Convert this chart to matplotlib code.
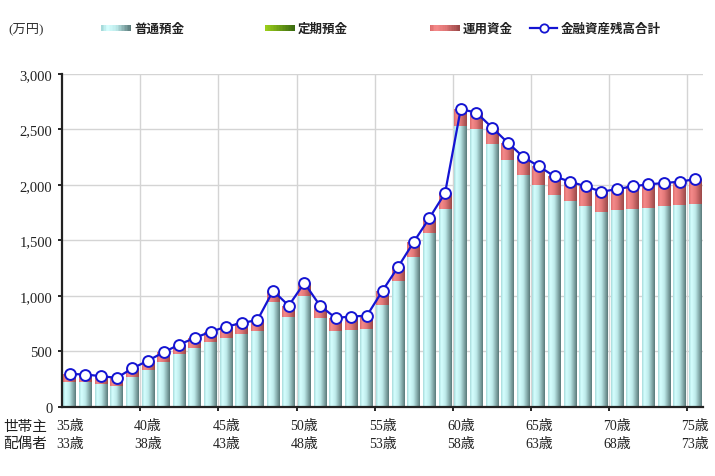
#!/usr/bin/env python3
"""Household financial assets by age: stacked bars + total line."""

import numpy as np
import matplotlib
matplotlib.use('Agg')
import matplotlib.pyplot as plt
from matplotlib.colors import LinearSegmentedColormap
from matplotlib.patches import Rectangle
from matplotlib.lines import Line2D

# ---- data (万円) ----
head_age = list(range(35, 76))
futsu = [225, 220, 200, 185, 265, 335, 405, 478, 530, 585,
         620, 655, 680, 940, 808, 1000, 800, 685, 695, 700,
         915, 1130, 1350, 1565, 1785, 2530, 2500, 2365, 2225, 2087,
         1997, 1905, 1853, 1805, 1750, 1770, 1785, 1793, 1808, 1817,
         1826]
teiki = [0] * 41
total = [295, 290, 275, 260, 345, 415, 490, 560, 620, 675,
         720, 755, 780, 1045, 910, 1115, 910, 800, 812, 820,
         1045, 1260, 1485, 1700, 1925, 2680, 2650, 2515, 2380, 2250,
         2165, 2075, 2027, 1985, 1937, 1960, 1985, 2003, 2015, 2027,
         2050]
unyo = [t - f - k for t, f, k in zip(total, futsu, teiki)]

label_ages = [35, 40, 45, 50, 55, 60, 65, 70, 75]
spouse_ages = [33, 38, 43, 48, 53, 58, 63, 68, 73]

SERIF = ['Liberation Serif', 'Noto Sans CJK JP']
GOTHIC = ['Noto Sans CJK JP', 'DejaVu Sans']

cmap_teal = LinearSegmentedColormap.from_list(
    'teal', [(0, '#a6dada'), (0.18, '#d6ffff'), (0.5, '#bdeaea'), (1, '#5a7a7a')])
cmap_red = LinearSegmentedColormap.from_list(
    'red', [(0, '#dc6c6c'), (0.18, '#f58a8a'), (0.5, '#e27878'), (1, '#9a4848')])
cmap_green = LinearSegmentedColormap.from_list(
    'green', [(0, '#9acd1a'), (1, '#3a6a10')])
grad = np.linspace(0, 1, 64).reshape(1, -1)


def fill_gradient(ax, bars, cmap):
    for p in bars:
        x0, y0 = p.get_x(), p.get_y()
        w, h = p.get_width(), p.get_height()
        if h <= 0:
            continue
        p.set_facecolor('none')
        p.set_edgecolor('none')
        im = ax.imshow(grad, cmap=cmap, aspect='auto', zorder=2,
                       extent=(x0, x0 + w, y0, y0 + h), interpolation='bilinear')
        im.set_clip_path(p)


fig = plt.figure(figsize=(7.15, 4.77), dpi=100)
ax = fig.add_axes([0.0867, 0.1453, 0.8966, 0.6981])

x = np.arange(len(head_age))
b1 = ax.bar(x, futsu, width=0.82, zorder=2)
b2 = ax.bar(x, teiki, bottom=futsu, width=0.82, zorder=2)
b3 = ax.bar(x, unyo, bottom=np.array(futsu) + np.array(teiki), width=0.82, zorder=2)
fill_gradient(ax, b1, cmap_teal)
fill_gradient(ax, b2, cmap_green)
fill_gradient(ax, b3, cmap_red)

ax.plot(x, total, color='#1414d2', lw=1.6, marker='o', ms=7.8,
        mfc='white', mec='#1414d2', mew=1.4, zorder=4)

ax.set_xlim(-0.5, len(x) - 0.5)
ax.set_ylim(0, 3000)
ax.set_yticks(range(0, 3001, 500))
ax.set_yticklabels([f'{v:,}' for v in range(0, 3001, 500)],
                   family=SERIF, fontsize=10.5, color='#222222')
ax.grid(axis='y', color='#d4d4d4', lw=1.0, zorder=0)

# vertical gridlines at 5-year boundaries
minor = [a - 35 - 0.5 for a in label_ages[1:]]
ax.set_xticks(minor, minor=True)
ax.grid(axis='x', which='minor', color='#d4d4d4', lw=1.0, zorder=0)
ax.tick_params(axis='x', which='minor', length=3, width=1.2, direction='out')
ax.set_xticks([a - 35 for a in label_ages])
ax.set_xticklabels([])
ax.tick_params(axis='x', which='major', length=0)
ax.tick_params(axis='y', length=3, width=1.2, pad=4)

for a, s in zip(label_ages, spouse_ages):
    ax.text(a - 35, -0.055, f'{a}歳', transform=ax.get_xaxis_transform(),
            ha='center', va='center', family=SERIF, fontsize=10, color='#222222')
    ax.text(a - 35, -0.11, f'{s}歳', transform=ax.get_xaxis_transform(),
            ha='center', va='center', family=SERIF, fontsize=10, color='#222222')
fig.text(0.004, 1 - 427 / 477, '世帯主', family=GOTHIC, fontsize=10.5,
         va='center', ha='left', color='#222222')
fig.text(0.004, 1 - 444 / 477, '配偶者', family=GOTHIC, fontsize=10.5,
         va='center', ha='left', color='#222222')

for s in ['top', 'right']:
    ax.spines[s].set_visible(False)
for s in ['left', 'bottom']:
    ax.spines[s].set_linewidth(1.6)
    ax.spines[s].set_color('#222222')
    ax.spines[s].set_zorder(5)

# ---- legend drawn by hand ----
W, H = 715.0, 477.0
ly = 1 - 29 / H
fig.text(8 / W, ly, '(万円)', family=SERIF, fontsize=9.5, va='center', color='#333333')


def swatch(x0, cmap, label):
    n = 20
    for i in range(n):
        fig.add_artist(Rectangle((x0 / W + i * 30 / W / n, ly - 3 / H), 30 / W / n + 0.0005,
                                 6 / H, transform=fig.transFigure,
                                 color=cmap(i / (n - 1)), lw=0))
    fig.text((x0 + 33) / W, ly, label, family=GOTHIC, fontsize=9,
             fontweight='bold', va='center', color='#222222')


swatch(101, cmap_teal, '普通預金')
swatch(265, cmap_green, '定期預金')
swatch(430, cmap_red, '運用資金')
fig.add_artist(Line2D([530 / W, 557 / W], [ly, ly], transform=fig.transFigure,
                      color='#1414d2', lw=1.6, zorder=5))
fig.add_artist(Line2D([543.5 / W], [ly], transform=fig.transFigure,
                      color='#1414d2', marker='o', ms=6, mfc='white',
                      mec='#1414d2', mew=1.3, zorder=6))
fig.text(561 / W, ly, '金融資産残高合計', family=GOTHIC, fontsize=9,
         fontweight='bold', va='center', color='#222222')

fig.savefig('out.png', dpi=100)
